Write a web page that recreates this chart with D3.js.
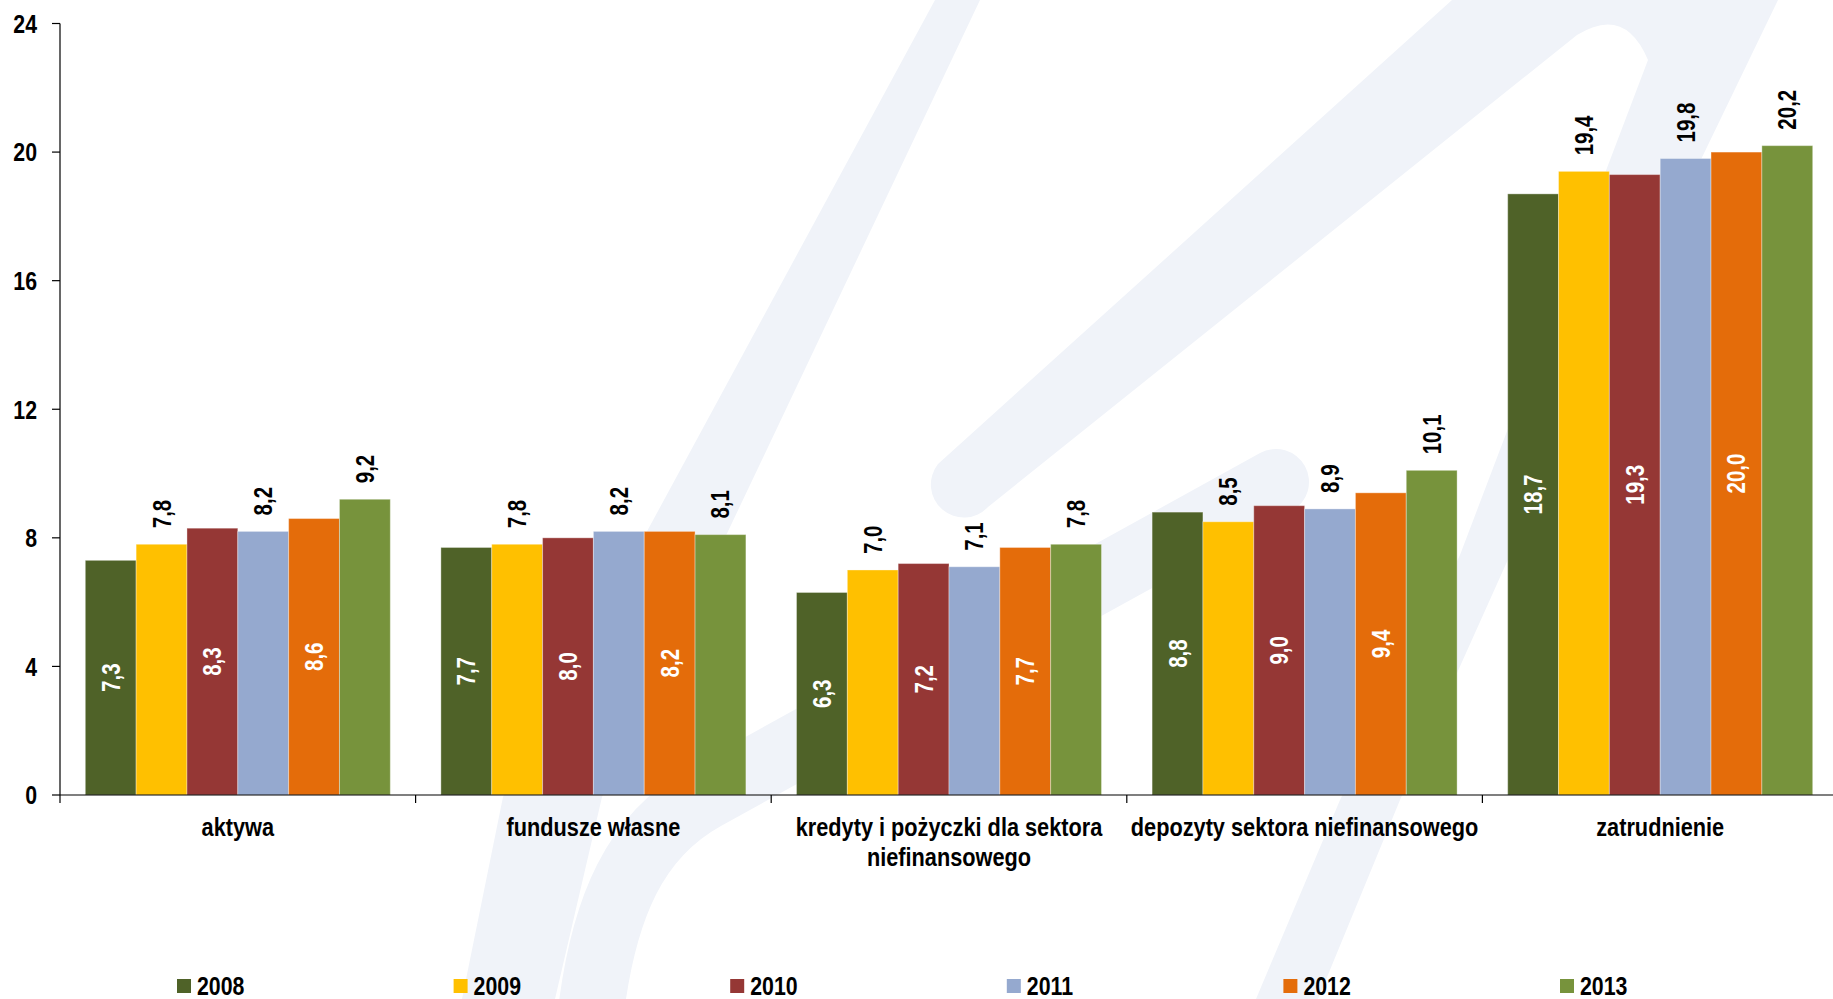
<!DOCTYPE html>
<html>
<head>
<meta charset="utf-8">
<script src="https://cdn.jsdelivr.net/npm/d3@7"></script>
<style>
  html, body { margin: 0; padding: 0; background: #ffffff; }
  svg { display: block; }
  text { font-family: "Liberation Sans", Arial, sans-serif; font-weight: bold; }
</style>
</head>
<body>
<svg id="chart" width="1833" height="999"></svg>
<script>
// ---------- data ----------
const categories = [
  "aktywa",
  "fundusze własne",
  "kredyty i pożyczki dla sektora niefinansowego",
  "depozyty sektora niefinansowego",
  "zatrudnienie"
];
const years = ["2008", "2009", "2010", "2011", "2012", "2013"];
const v2008 = [7.3, 7.7, 6.3, 8.8, 18.7];
const v2009 = [7.8, 7.8, 7.0, 8.5, 19.4];
const v2010 = [8.3, 8.0, 7.2, 9.0, 19.3];
const v2011 = [8.2, 8.2, 7.1, 8.9, 19.8];
const v2012 = [8.6, 8.2, 7.7, 9.4, 20.0];
const v2013 = [9.2, 8.1, 7.8, 10.1, 20.2];
const yTicks = [0, 4, 8, 12, 16, 20, 24];
const colors = ["#4F6228", "#FFC000", "#953735", "#95A9CF", "#E46C0A", "#77933C"];

const seriesValues = [v2008, v2009, v2010, v2011, v2012, v2013];
const series = years.map((y, i) => ({ year: y, color: colors[i], values: seriesValues[i] }));

// ---------- layout ----------
const NARROW = 0.82;
const svg = d3.select("#chart");

// background watermark (decorative logo shape)
const WM = "#F0F3F9";
const wm = svg.append("g");
wm.append("path").attr("fill", WM)
  .attr("d", "M935,0 L980,0 L602,797 L555,999 L462,999 L503,797 Z");
wm.append("path").attr("fill", "none").attr("stroke", WM).attr("stroke-width", 66).attr("stroke-linecap", "round")
  .attr("d", "M1276,482 L705,797 C640,833 600,900 588,1040");
wm.append("path").attr("fill", WM)
  .attr("d", "M938,464 L1452,0 L1778,0 L1510,555 L1400,800 L1318,999 L1256,999 L1340,800 L1460,555 L1648,60 Q1625,5 1577,35 L988,507 A33,33 0 0 1 938,464 Z");

const x0 = d3.scaleBand().domain(categories).range([60, 1838]).padding(0);
const x1 = d3.scaleBand().domain(years).range([25.3, 330.3]).padding(0);
const y = d3.scaleLinear().domain([0, 24]).range([795, 23.5]);

const fmt = v => d3.format(".1f")(v).replace(".", ",");

// bars
const gs = svg.append("g").selectAll("g.series").data(series).join("g").attr("class", "series");
gs.selectAll("rect")
  .data(d => d.values.map((v, i) => ({ v, cat: categories[i], year: d.year, color: d.color })))
  .join("rect")
  .attr("x", d => x0(d.cat) + x1(d.year))
  .attr("width", x1.bandwidth())
  .attr("y", d => y(d.v))
  .attr("height", d => y(0) - y(d.v))
  .attr("fill", d => d.color)
  .attr("stroke", "rgba(255,255,255,0.35)")
  .attr("stroke-width", 1);

// value labels
series.forEach((s, si) => {
  const inside = si % 2 === 0;
  svg.append("g").selectAll("text")
    .data(s.values.map((v, i) => ({ v, cat: categories[i] })))
    .join("text")
    .attr("transform", d => {
      const cx = x0(d.cat) + x1(s.year) + x1.bandwidth() / 2;
      const cy = inside ? (y(d.v) + y(0)) / 2 : y(d.v) - 16;
      return `translate(${cx},${cy}) rotate(-90) scale(${NARROW},1)`;
    })
    .attr("text-anchor", inside ? "middle" : "start")
    .attr("dy", "0.36em")
    .attr("font-size", 25)
    .attr("fill", inside ? "#ffffff" : "#000000")
    .text(d => fmt(d.v));
});

// y axis
const yAxis = svg.append("g").attr("transform", "translate(60,0)");
yAxis.append("line").attr("x1", 0).attr("x2", 0).attr("y1", y(24)).attr("y2", y(0)).attr("stroke", "#000").attr("stroke-width", 1.2);
yAxis.selectAll("line.tick").data(yTicks).join("line").attr("class", "tick")
  .attr("x1", -8).attr("x2", 0).attr("y1", d => y(d)).attr("y2", d => y(d)).attr("stroke", "#000").attr("stroke-width", 1.2);
yAxis.selectAll("text").data(yTicks).join("text")
  .attr("transform", d => `translate(-23,${y(d)}) scale(${NARROW},1)`)
  .attr("text-anchor", "end").attr("dy", "0.36em").attr("font-size", 26).attr("fill", "#000")
  .text(d => d);

// x axis
const xAxis = svg.append("g");
xAxis.append("line").attr("x1", 60).attr("x2", 1838).attr("y1", y(0)).attr("y2", y(0)).attr("stroke", "#000").attr("stroke-width", 1.2);
const bounds = categories.map(c => x0(c)).concat([x0.range()[1]]);
xAxis.selectAll("line.tick").data(bounds).join("line").attr("class", "tick")
  .attr("x1", d => d).attr("x2", d => d).attr("y1", y(0)).attr("y2", y(0) + 8).attr("stroke", "#000").attr("stroke-width", 1.2);

// category labels with wrapping
const maxW = 350;
categories.forEach(c => {
  const cx = x0(c) + x0.bandwidth() / 2;
  const g = xAxis.append("g").attr("transform", `translate(${cx},836) scale(${NARROW},1)`);
  const t = g.append("text").attr("text-anchor", "middle").attr("font-size", 26.5).attr("fill", "#000");
  const words = c.split(" ");
  let lines = [];
  let cur = [];
  const probe = g.append("text").attr("font-size", 26.5).attr("visibility", "hidden");
  words.forEach(w => {
    const test = cur.concat([w]).join(" ");
    probe.text(test);
    if (probe.node().getComputedTextLength() * NARROW > maxW && cur.length) {
      lines.push(cur.join(" "));
      cur = [w];
    } else {
      cur.push(w);
    }
  });
  if (cur.length) lines.push(cur.join(" "));
  probe.remove();
  lines.forEach((l, i) => {
    t.append("tspan").attr("x", 0).attr("y", i * 30).text(l);
  });
});

// legend
const legend = svg.append("g");
series.forEach((s, i) => {
  const lx = 177 + i * 276.6;
  legend.append("rect").attr("x", lx).attr("y", 979).attr("width", 14).attr("height", 14).attr("fill", s.color);
  legend.append("text").attr("transform", `translate(${lx + 20},995) scale(${NARROW},1)`)
    .attr("font-size", 26).attr("fill", "#000").text(s.year);
});
</script>
</body>
</html>
